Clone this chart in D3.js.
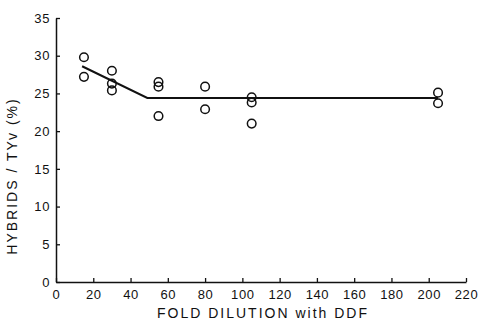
<!DOCTYPE html>
<html>
<head>
<meta charset="utf-8">
<script src="https://cdn.jsdelivr.net/npm/d3@7"></script>
<style>
    body { margin: 0; background: #fff; }
    svg text { font-family: "Liberation Sans", Arial, sans-serif; fill: #111; }
</style>
</head>
<body>
<div id="app"></div>
<script>
// measured points: fold dilution vs hybrids/TYv (%)
const dilution = [15, 15, 30, 30, 30, 55, 55, 55, 80, 80, 105, 105, 105, 205, 205];
const hybrids = [29.8, 27.2, 28.0, 26.3, 25.4, 26.5, 25.9, 22.0, 25.9, 22.9, 24.5, 23.8, 21.0, 25.1, 23.7];
// fitted line (break point then plateau)
const fitX = [14, 49, 205];
const fitY = [28.6, 24.4, 24.4];
const xTicks = [0, 20, 40, 60, 80, 100, 120, 140, 160, 180, 200, 220];
const yTicks = [0, 5, 10, 15, 20, 25, 30, 35];

const width = 481, height = 322;
const margin = { left: 56, right: 15, top: 18, bottom: 40 };

const svg = d3.select('#app').append('svg').attr('width', width).attr('height', height);

const x = d3.scaleLinear().domain([0, 220]).range([margin.left, width - margin.right]);
const y = d3.scaleLinear().domain([0, 35]).range([height - margin.bottom, margin.top]);

// axes with inward ticks
const xAxis = svg.append('g')
    .attr('transform', `translate(0,${y(0)})`)
    .call(d3.axisBottom(x).tickValues(xTicks).tickSize(-4).tickPadding(8).tickSizeOuter(0));
const yAxis = svg.append('g')
    .attr('transform', `translate(${x(0)},0)`)
    .call(d3.axisLeft(y).tickValues(yTicks).tickSize(-4).tickPadding(6).tickSizeOuter(0));

[xAxis, yAxis].forEach(g => {
    g.select('.domain').attr('stroke', '#111').attr('stroke-width', 1.5);
    g.selectAll('.tick line').attr('stroke', '#111').attr('stroke-width', 1.3);
    g.selectAll('.tick text').attr('font-size', 13).attr('letter-spacing', 0.6).style('fill', '#111');
});

// fitted line
const line = d3.line().x(d => x(d[0])).y(d => y(d[1]));
svg.append('path')
    .datum(fitX.map((v, i) => [v, fitY[i]]))
    .attr('d', line)
    .attr('fill', 'none')
    .attr('stroke', '#111')
    .attr('stroke-width', 2);

// points
svg.selectAll('circle.pt').data(dilution)
    .enter().append('circle').classed('pt', true)
    .attr('cx', d => x(d))
    .attr('cy', (d, i) => y(hybrids[i]))
    .attr('r', 4.3)
    .attr('fill', 'none')
    .attr('stroke', '#111')
    .attr('stroke-width', 1.5);

// axis titles
svg.append('text')
    .attr('x', 263).attr('y', 318)
    .attr('text-anchor', 'middle')
    .attr('font-size', 14)
    .attr('letter-spacing', 2)
    .text('FOLD DILUTION with DDF');

svg.append('text')
    .attr('transform', `translate(17,176) rotate(-90)`)
    .attr('text-anchor', 'middle')
    .attr('font-size', 14)
    .attr('letter-spacing', 2)
    .text('HYBRIDS / TYv (%)');
</script>
</body>
</html>
